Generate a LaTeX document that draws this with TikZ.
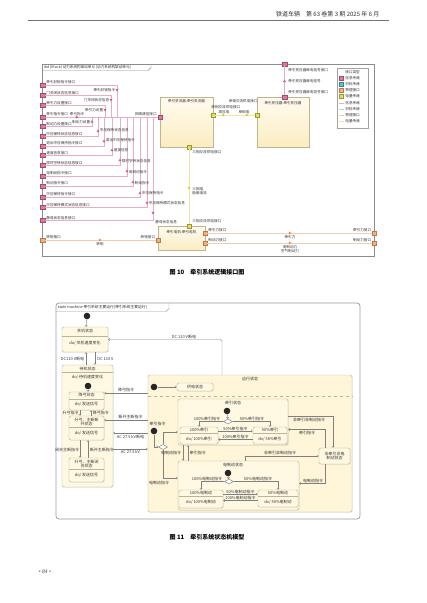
\documentclass[tikz,border=0pt]{standalone}
\usepackage{fontspec}
\setmainfont{Noto Sans CJK SC}
\newfontfamily\lserif{Liberation Serif}
\usetikzlibrary{arrows.meta,shapes.geometric,shadows}
\definecolor{pinkf}{HTML}{D9799E}
\definecolor{pinkd}{HTML}{A84870}
\definecolor{pinkl}{HTML}{E8AEC4}
\definecolor{pinkt}{HTML}{D45A8A}
\definecolor{yelf}{HTML}{E4DE5A}
\definecolor{yeld}{HTML}{9A9A30}
\definecolor{yell}{HTML}{ECE69E}
\definecolor{yelt}{HTML}{D6CC3A}
\definecolor{orf}{HTML}{F2B27E}
\definecolor{ord}{HTML}{C07848}
\definecolor{orl}{HTML}{F2CDB0}
\definecolor{ort}{HTML}{F08A48}
\definecolor{cyf}{HTML}{5FC0C8}
\definecolor{cyd}{HTML}{2F8890}
\definecolor{cyl}{HTML}{A8DCE0}
\definecolor{blkd}{HTML}{C4B48C}
\definecolor{blkf}{HTML}{FBEDC2}
\definecolor{blkt}{HTML}{FFFBF0}
\definecolor{stf}{HTML}{FFF8E2}
\definecolor{std}{HTML}{BDB398}
\definecolor{runf}{HTML}{FFF5D8}
\definecolor{frm}{HTML}{8C8C8C}
\newcommand\ftri[4]{\fill[#4, shift={(#1,#2)}, rotate=#3] (1.7,0) -- (-1.2,1.5) -- (-1.2,-1.5) -- cycle;}
\tikzset{
  fa/.style={font=\fontsize{3.6}{4.3}\selectfont, text=black!80, inner sep=0.2pt},
  fb/.style={font=\fontsize{4}{4.8}\selectfont, text=black!80, inner sep=0.2pt, align=center},
  pport/.style={draw=pinkd, fill=pinkf, minimum size=4.6pt, inner sep=0pt, line width=.3pt},
  yport/.style={pport, draw=yeld, fill=yelf},
  oport/.style={pport, draw=ord, fill=orf},
  cport/.style={pport, draw=cyd, fill=cyf},
  pline/.style={draw=pinkl, line width=.5pt},
  yline/.style={draw=yell, line width=.6pt},
  oline/.style={draw=orl, line width=.6pt},
  cline/.style={draw=cyl, line width=.5pt},
  blk/.style={draw=blkd, line width=.5pt, top color=blkt, bottom color=blkf, inner sep=0pt,
    drop shadow={shadow xshift=.8pt, shadow yshift=-.8pt, opacity=.25}},
  stbox/.style={draw=std, fill=stf, rounded corners=1.5pt, line width=.4pt, inner sep=0pt,
    drop shadow={shadow xshift=.6pt, shadow yshift=-.6pt, opacity=.2}},
  sep/.style={draw=std, line width=.3pt},
  init/.style={circle, fill=black!85, minimum size=6.6pt, inner sep=0pt},
  dia/.style={diamond, draw=black!55, fill=white, minimum width=9pt, minimum height=5pt, inner sep=0pt, line width=.4pt},
  trans/.style={draw=black!50, line width=.4pt, -{Straight Barb[length=1.5pt,width=2.4pt]}},
}
\begin{document}
\begin{tikzpicture}[x=1pt,y=-1pt]
\useasboundingbox (0,0) rectangle (427,603);
\fill[white] (0,0) rectangle (427,603);

% ---------- header ----------
\node[font=\fontsize{6}{7}\selectfont, anchor=east, text=black!80] (hdr) at (383,14) {铁道车辆\quad 第 63 卷第 3 期 2025 年 6 月};
\draw[black!55, line width=.9] (28,20) -- (389,20);

% ================= Figure 10 =================
\draw[frm, line width=.5] (42,64) rectangle (374,256);
\draw[frm, line width=.4] (42,70.5) -- (148,70.5) -- (151,67.5) -- (151,64);
\node[fa, anchor=west] (tab1) at (43.5,67.3) {ibd [Block] 动力系统构架动单元 [动力系统构架动单元]};

% blocks
\node[blk, minimum width=53pt, minimum height=50pt] (CONV) at (186.5,122) {};
\node[fa] (CONVt) at (186.5,100.8) {牵引变流器:牵引变流器};
\node[blk, minimum width=52pt, minimum height=50pt] (TRANS) at (283,122) {};
\node[fa] (TRANSt) at (283,103) {牵引变压器:牵引变压器};
\node[blk, minimum width=47pt, minimum height=24pt] (MOT) at (181.5,238) {};
\node[fa] (MOTt) at (181.5,232.5) {牵引电机:牵引电机};

% ports on blocks
\node[pport] (NET) at (160,117) {};
\node[yport] (YR1) at (213,115) {};
\node[yport] (YB1) at (189,147) {};
\node[yport] (YL2) at (257,115) {};
\node[pport] (PT2) at (284.5,97) {};
\node[pport] (PF) at (284.5,64) {};
\node[yport] (YM) at (189,226) {};
\node[oport] (MR1) at (205,233) {};
\node[oport] (MR2) at (205,243) {};
\node[oport] (ML) at (158,240) {};
\node[oport] (FR1) at (374,233) {};
\node[oport] (FR2) at (374,243) {};
\node[oport] (FL) at (42.5,240) {};

% left ports
\foreach \i/\yy/\lab in {1/85/牵引封锁指令接口,2/95/门关闭状态信息接口,3/105/牵引力设置接口,4/117/牵引指令接口,5/126/制动力设置接口,6/136/中压保持状态信息接口,7/146/退出中压保持指令接口,8/155/速度信息接口,9/165/限时空转状态信息接口,10/176/电制动指令接口,11/186/制动指令接口,12/197/中压保持指令接口,13/207/中压保持模式状态信息接口,14/220/静母状态信息接口}{
  \node[pport] (L\i) at (42.5,\yy) {};
  \node[fa, anchor=south west] (LT\i) at (46,\yy-0.3) {\lab};
}
% connectors from left ports to network port
\foreach \i/\vx in {1/117,2/111,3/105,5/92,6/98,7/104,8/112,9/120,10/127,11/133,12/140,13/147,14/153}{
  \draw[pline] (L\i.east) -| (\vx,0 |- NET.west);
}
\draw[pline] (L4.east) -- (NET.west);
\node[fa, anchor=south east] (NETt) at (157,116.5) {网络通信接口};

% flow items
\ftri{117}{90}{-90}{pinkt} \node[fa, anchor=east] (F1) at (115.5,90.5) {牵引封锁指令};
\ftri{111}{100}{-90}{pinkt} \node[fa, anchor=east] (F2) at (109.5,100.5) {门关闭状态信息};
\ftri{105}{110}{-90}{pinkt} \node[fa, anchor=east] (F3) at (103.5,110.5) {牵引力设置};
\ftri{77}{117}{0}{pinkt} \node[fa, anchor=south west] (F4) at (69.5,116.3) {牵引指令};
\ftri{92}{121.5}{90}{pinkt} \node[fa, anchor=east] (F5) at (90.5,122) {制动力设置};
\ftri{98}{131}{90}{pinkt} \node[fa, anchor=west] (F6) at (99.5,130) {中压保持状态信息};
\ftri{104}{141}{90}{pinkt} \node[fa, anchor=west] (F7) at (105.5,140.5) {退出中压保持指令};
\ftri{112}{150}{90}{pinkt} \node[fa, anchor=west] (F8) at (113.5,150.5) {速度信息};
\ftri{120}{160}{90}{pinkt} \node[fa, anchor=west] (F9) at (121.5,161) {限时空转状态信息};
\ftri{127}{171}{90}{pinkt} \node[fa, anchor=west] (F10) at (128.5,172) {电制动指令};
\ftri{133}{182}{90}{pinkt} \node[fa, anchor=west] (F11) at (134.5,183) {制动指令};
\ftri{140}{193}{90}{pinkt} \node[fa, anchor=west] (F12) at (141.5,193.5) {中压保持指令};
\ftri{147}{203}{-90}{pinkt} \node[fa, anchor=west] (F13) at (148.5,203.5) {中压保持模式状态信息};
\ftri{153}{213}{-90}{pinkt} \node[fa, anchor=west] (F14) at (155,222) {静母状态信息};

% power connectors
\draw[yline] (YR1.east) -- (YL2.west);
\ftri{223}{115}{180}{yelt} \ftri{247}{115}{0}{yelt}
\node[fa, anchor=south] (YF1) at (224,113.8) {高压电};
\node[fa, anchor=south] (YF2) at (244,113.8) {单相电};
\node[fa, anchor=south west] (YR1t) at (211,108.8) {单相交流供电接口};
\node[fa, anchor=south east] (YL2t) at (258,103.6) {单相交流供电接口};
\draw[yline] (YB1.south) -- (YM.north);
\ftri{189}{188}{-90}{yelt}
\node[fa, anchor=west] (YB1t) at (192,152) {三相交流供电接口};
\node[fa, anchor=north west, align=left] (YF3) at (192,187) {三相电,\\励磁电流};
\node[fa, anchor=west] (YMt) at (192,221.5) {三相交流供电接口};

% transformer signal
\draw[pline] (PF.south) -- (PT2.north);
\ftri{284.5}{81}{90}{pinkt}
\node[fa, anchor=west] (PFt) at (288,70) {牵引变压器继电信号接口};
\node[fa, anchor=west] (PF2) at (288,81) {牵引变压器继电信号};
\node[fa, anchor=west] (PT2t) at (288,92) {牵引变压器继电信号接口};

% force connectors
\draw[oline] (MR1.east) -- (FR1.west);
\draw[oline] (MR2.east) -- (FR2.west);
\draw[oline] (FL.east) -- (ML.west);
\ftri{290}{233}{0}{ort} \ftri{290}{243}{0}{ort} \ftri{100}{240}{0}{ort}
\node[fa, anchor=north] (OF1) at (290,235) {牵引力};
\node[fa, anchor=north, align=center] (OF2) at (290,245) {电制动力\\空气制动力};
\node[fa, anchor=north] (OF3) at (100,241.8) {转矩};
\node[fa, anchor=south west] (MR1t) at (208,232.6) {牵引力接口};
\node[fa, anchor=south west] (MR2t) at (208,242.6) {制动力接口};
\node[fa, anchor=south east] (FR1t) at (371.5,232.6) {牵引力接口};
\node[fa, anchor=south east] (FR2t) at (371.5,242.6) {制动力接口};
\node[fa, anchor=south west] (FLt) at (46,239.6) {转矩接口};
\node[fa, anchor=south east] (MLt) at (155.5,239.6) {转矩接口};

% legend
\node[draw=frm!80, fill=white, line width=.4, minimum width=31pt, minimum height=60pt, inner sep=0] (LEG) at (352.5,98) {};
\node[fa] (LEGt) at (352.5,72) {接口类型};
\node[pport, minimum size=4pt] (LG1) at (341.5,78.5) {}; \node[fa, anchor=west] (LG1t) at (345,78.5) {信息传递};
\node[cport, minimum size=4pt] (LG2) at (341.5,84.5) {}; \node[fa, anchor=west] (LG2t) at (345,84.5) {材料传递};
\node[oport, minimum size=4pt] (LG3) at (341.5,90.5) {}; \node[fa, anchor=west] (LG3t) at (345,90.5) {物理接口};
\node[yport, minimum size=4pt] (LG4) at (341.5,96.5) {}; \node[fa, anchor=west] (LG4t) at (345,96.5) {电量传递};
\draw[pline] (339,103) -- (344,103); \node[fa, anchor=west] (LG5t) at (345,103) {信息传递};
\draw[cline] (339,109) -- (344,109); \node[fa, anchor=west] (LG6t) at (345,109) {材料传递};
\draw[oline] (339,115) -- (344,115); \node[fa, anchor=west] (LG7t) at (345,115) {物理接口};
\draw[yline] (339,121) -- (344,121); \node[fa, anchor=west] (LG8t) at (345,121) {电量传递};

\node[font=\fontsize{6}{7}\selectfont\bfseries] (cap10) at (207,272) {图 10\quad 牵引系统逻辑接口图};

% ================= Figure 11 =================
\draw[black!40, line width=.7, rounded corners=3] (56,303) rectangle (360,519);
\draw[black!40, line width=.4] (56,311.5) -- (166,311.5) -- (169,308.5) -- (169,303);
\node[fb, font=\fontsize{3.8}{4.4}\selectfont, anchor=west] (tab2) at (57.5,307.3) {state machine 牵引系统主要运行[牵引系统主要运行]};

% off state
\node[init] (I0) at (87,316) {};
\node[stbox, minimum width=46pt, minimum height=25pt] (OFF) at (85,339.5) {};
\node[fb] (OFFt) at (85,331.3) {关机状态};
\draw[sep] (62,335.8) -- (108,335.8);
\node[fb] (OFFd) at (85,343.5) {do/ 关机速度变化};
\draw[trans] (I0) -- (OFF);

% standby state
\node[stbox, minimum width=51pt, minimum height=122pt] (STBY) at (87.5,426) {};
\node[fb] (STBYt) at (87.5,368.8) {待机状态};
\draw[sep] (62,372.3) -- (113,372.3);
\node[fb] (STBYd) at (87.5,377) {do/ 待机速度变化};
\node[init] (I1) at (88,386) {};
\node[stbox, minimum width=35pt, minimum height=18pt] (DOWN) at (86.5,401) {};
\node[fb] (DOWNt) at (86.5,395.3) {降弓状态};
\draw[sep] (69,398.8) -- (104,398.8);
\node[fb] (DOWNd) at (86.5,404.5) {do/ 发送信号};
\node[stbox, minimum width=35pt, minimum height=24pt] (OPEN) at (86.5,428) {};
\node[fb] (OPENt) at (86.5,422) {升弓、主断断\\开状态};
\draw[sep] (69,427.5) -- (104,427.5);
\node[fb] (OPENd) at (86.5,433.5) {do/ 发送信号};
\node[stbox, minimum width=35pt, minimum height=24pt] (CLOSE) at (86.5,470) {};
\node[fb] (CLOSEt) at (86.5,464) {升弓、主断闭\\合状态};
\draw[sep] (69,469.5) -- (104,469.5);
\node[fb] (CLOSEd) at (86.5,475.5) {do/ 发送信号};
\draw[trans] (I1) -- (I1 |- DOWN.north);
\draw[trans] (80,0 |- DOWN.south) -- (80,0 |- OPEN.north);
\draw[trans] (91,0 |- OPEN.north) -- (91,0 |- DOWN.south);
\node[fb, anchor=east] (s1) at (79,413) {升弓指令};
\node[fb, anchor=west] (s2) at (92.5,413) {降弓指令};
\draw[trans] (80,0 |- OPEN.south) -- (80,0 |- CLOSE.north);
\draw[trans] (88,0 |- CLOSE.north) -- (88,0 |- OPEN.south);
\node[fb, anchor=east] (s3) at (79.5,449.5) {闭合主断指令};
\node[fb, anchor=west] (s4) at (89.5,449.5) {断开主断指令};

\draw[trans] (95,0 |- OFF.south) -- (95,0 |- STBY.north);
\draw[trans] (86,0 |- STBY.north) -- (86,0 |- OFF.south);
\node[fb, anchor=west] (s5) at (97,359) {DC 110 V};
\node[fb, anchor=east] (s6) at (84.5,359) {DC110 V断电};

% running state
\node[stbox, fill=runf, minimum width=204pt, minimum height=137pt] (RUN) at (250,443.5) {};
\node[fb] (RUNt) at (250,378.8) {运行状态};
\node[init] (I2) at (154,387) {};
\node[stbox, fb, minimum width=36pt, minimum height=8pt] (SUP) at (195,387) {供电状态};
\draw[trans] (I2) -- (SUP);
\draw[std, dashed, line width=.4] (RUN.west |- 0,396) -- (RUN.east |- 0,396);
\draw[trans, rounded corners=2] (222,0 |- RUN.north) |- (OFF.east);
\node[fb, anchor=south] (s7) at (184,338.8) {DC 110 V断电};

\draw[trans] (RUN.west |- 0,393) -- (DOWN.east |- 0,393);
\node[fb, anchor=south] (s8) at (126,392.5) {降弓指令};
\draw[trans] (RUN.west |- 0,420) -- (OPEN.east |- 0,420);
\node[fb, anchor=south] (s9) at (130.5,419.5) {断开主断指令};
\draw[trans] (RUN.west |- 0,433) -- (STBY.east |- 0,433);
\node[fb, anchor=north] (s10) at (130.5,434.3) {AC 27.5 kV断电};
\draw[trans] (STBY.east |- 0,449) -- (RUN.west |- 0,449);
\node[fb, anchor=north] (s11) at (130.5,450.3) {AC 27.5 kV};

% traction state
\node[stbox, minimum width=110pt, minimum height=46pt] (TR) at (233,422) {};
\node[fb] (TRt) at (233,402.8) {牵引状态};
\node[init] (I3) at (227,411) {};
\node[dia] (D1) at (228,421.5) {};
\draw[trans] (I3) -- (D1);
\node[stbox, minimum width=38pt, minimum height=17pt] (T100) at (199,435.5) {};
\node[fb] (T100t) at (199,430.2) {100\%牵引};
\draw[sep] (180,433.4) -- (218,433.4);
\node[fb] (T100d) at (199,438.8) {do/ 100\%牵引};
\node[stbox, minimum width=34pt, minimum height=17pt] (T50) at (270,435.5) {};
\node[fb] (T50t) at (270,430.2) {50\%牵引};
\draw[sep] (253,433.4) -- (287,433.4);
\node[fb] (T50d) at (270,438.8) {do/ 50\%牵引};
\draw[trans] (D1.west) -| (T100.north);
\draw[trans] (D1.east) -| (T50.north);
\node[fb, anchor=south] (s12) at (207,420.8) {100\%牵引指令};
\node[fb, anchor=south] (s13) at (252,420.8) {50\%牵引指令};
\draw[trans] (T100.east |- 0,431) -- (T50.west |- 0,431);
\node[fb, anchor=south] (s14) at (235.5,430.8) {50\%牵引指令};
\draw[trans] (T50.west |- 0,439.5) -- (T100.east |- 0,439.5);
\node[fb, anchor=south] (s15) at (235.5,439.3) {100\%牵引指令};

% electric braking state
\node[stbox, minimum width=121pt, minimum height=49pt] (EB) at (238.5,485.5) {};
\node[fb] (EBt) at (233,464.5) {电制动状态};
\node[init] (I5) at (228,473) {};
\node[dia] (D2) at (229,481.5) {};
\draw[trans] (I5) -- (D2);
\node[stbox, minimum width=44pt, minimum height=18pt] (E100) at (201,499) {};
\node[fb] (E100t) at (201,493.3) {100\%电制动};
\draw[sep] (179,496.5) -- (223,496.5);
\node[fb] (E100d) at (201,502.5) {do/ 100\%电制动};
\node[stbox, minimum width=40pt, minimum height=17pt] (E50) at (278,498.5) {};
\node[fb] (E50t) at (278,493.3) {50\%电制动};
\draw[sep] (258,496.3) -- (298,496.3);
\node[fb] (E50d) at (278,502) {do/ 50\%电制动};
\draw[trans] (D2.west) -| (E100.north);
\draw[trans] (D2.east) -| (E50.north);
\node[fb, anchor=south] (s16) at (207,481) {100\%电制动指令};
\node[fb, anchor=south] (s17) at (258,481) {50\%电制动指令};
\draw[trans] (E100.east |- 0,494) -- (E50.west |- 0,494);
\node[fb, anchor=south] (s18) at (240.5,493.8) {50\%电制动指令};
\draw[trans] (E50.west |- 0,500.5) -- (E100.east |- 0,500.5);
\node[fb, anchor=south] (s19) at (240.5,500.3) {100\%电制动指令};

% choice on the left of running state
\node[fb] (s20) at (157.5,423.5) {牵引指令};
\node[init] (I4) at (154,431) {};
\node[dia] (D0) at (163,447) {};
\draw[trans] (I4) |- (D0.west);
\draw[trans] (D0.north) |- (TR.west |- 0,432);
\draw[trans] (D0.south) |- (EB.west |- 0,478);
\node[fb, anchor=north] (s21) at (159,480.5) {电制动指令};
\draw[trans] (183,0 |- TR.south) -- (183,0 |- EB.north);
\node[fb, anchor=east] (s22) at (181.5,453) {电制动指令};
\draw[trans] (188,0 |- EB.north) -- (188,0 |- TR.south);
\node[fb, anchor=west] (s23) at (189.5,453) {牵引指令};

% neither traction nor braking
\node[stbox, fb, minimum width=31pt, minimum height=16pt] (NN) at (334.5,456) {非牵引非电\\制动状态};
\draw[trans] (TR.east |- 0,416) -| (333,0 |- NN.north);
\node[fb, anchor=north] (s24) at (309,417.3) {非牵引非制动指令};
\draw[trans] (325,0 |- NN.north) |- (TR.east |- 0,429.5);
\node[fb, anchor=north] (s25) at (307,430.8) {牵引指令};
\draw[trans] (245,0 |- EB.north) |- (NN.west);
\node[fb, anchor=south] (s26) at (280,455.2) {非牵引非制动指令};
\draw[trans] (325,0 |- NN.south) |- (EB.east |- 0,483.5);
\node[fb, anchor=south] (s27) at (313,483) {电制动指令};

\node[font=\fontsize{6}{7}\selectfont\bfseries] (cap11) at (207,537) {图 11\quad 牵引系统状态机模型};

\node[font=\fontsize{5.5}{6}\selectfont\lserif, text=black!75] (pg) at (45,572) {• \textit{84} •};
\end{tikzpicture}
\end{document}
